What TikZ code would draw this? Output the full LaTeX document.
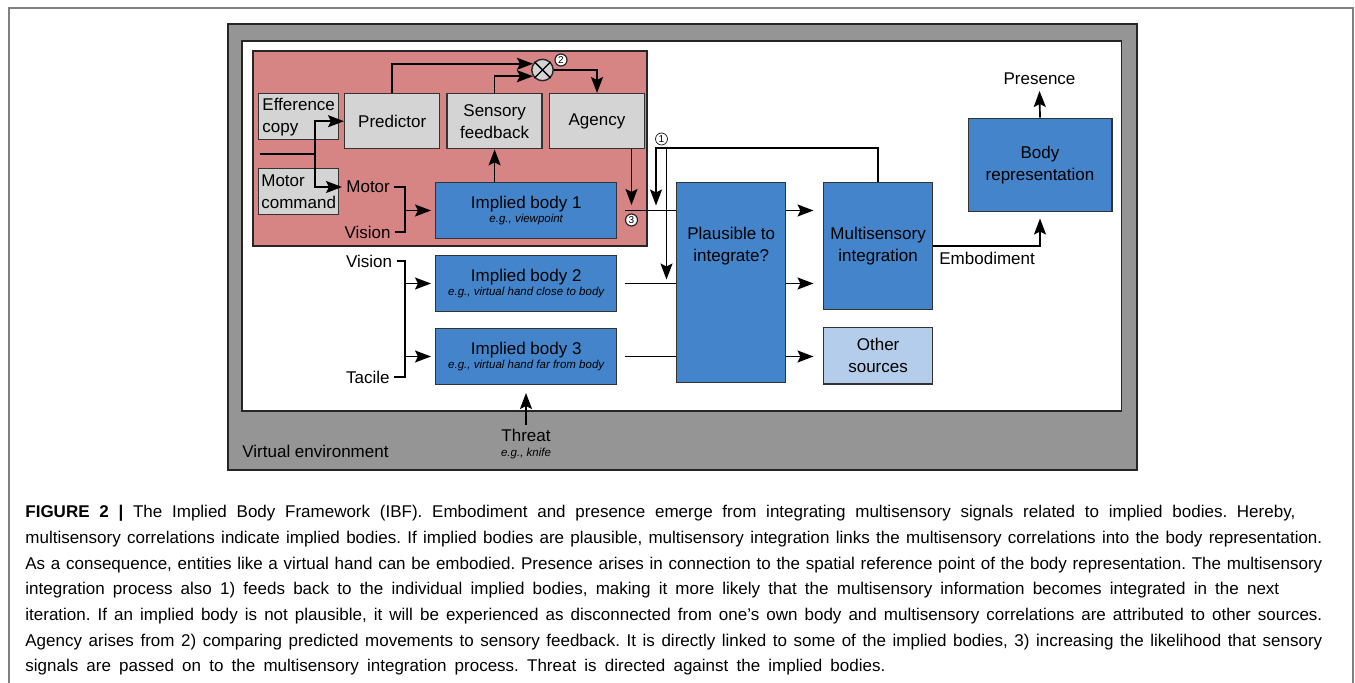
\documentclass[tikz,border=0pt]{standalone}
\usepackage{fontspec}
\setmainfont{Liberation Sans}
\usepackage{xcolor}
\usetikzlibrary{arrows.meta, positioning, calc}

\definecolor{envgray}{HTML}{959595}
\definecolor{agencyred}{HTML}{D78484}
\definecolor{boxgray}{HTML}{D4D4D4}
\definecolor{bodyblue}{HTML}{4384CA}
\definecolor{otherblue}{HTML}{B3CDEA}
\newcommand{\egfont}{\fontsize{5.75}{7}\selectfont\itshape}

\begin{document}
\begin{tikzpicture}[
  x=0.5pt, y=-0.5pt,
  gbox/.style={rectangle, draw=black!80, line width=0.7pt, fill=boxgray, minimum width=47.5pt, minimum height=27.5pt, align=center, inner sep=1pt, font=\fontsize{8.5}{11}\selectfont},
  bbox/.style={gbox, fill=bodyblue, minimum width=90.5pt, minimum height=27.8pt},
  lbl/.style={inner sep=2pt, align=center, font=\fontsize{8.5}{11}\selectfont},
  numcirc/.style={circle, draw=black!85, fill=white, line width=0.6pt, inner sep=0pt, minimum size=6pt, font=\fontsize{5}{5}\selectfont},
  wire/.style={line width=0.85pt},
  arr/.style={wire, -{Stealth[length=8pt, width=6pt, inset=1.5pt]}},
  node distance=8pt and 3pt
]
  \useasboundingbox (0,0) rectangle (1355,683);
  \draw[black!50, line width=0.6pt] (9,683) -- (9,8) -- (1353,8) -- (1353,683);

  % environment, body space, agency area
  \draw[black!85, line width=0.7pt, fill=envgray] (228,24) rectangle (1137,470);
  \draw[black!85, line width=0.7pt, fill=white] (242,41) rectangle (1121.5,411);
  \draw[black!85, line width=0.7pt, fill=agencyred] (253,51) rectangle (647,246);

  \node[gbox, minimum width=40pt, minimum height=23pt, align=left, anchor=north west] (effcopy) at (258,93) {Efference\\copy};
  \node[gbox, anchor=north west] (predictor) at (344,93) {Predictor};
  \node[gbox, right=3pt of predictor] (sensory) {Sensory\\feedback};
  \node[gbox, right=3pt of sensory] (agency) {Agency};
  \node[gbox, minimum width=40pt, minimum height=23pt, align=left, anchor=north west] (motorcmd) at (258,168) {Motor\\command};

  \node[circle, draw=black!85, line width=0.7pt, fill=boxgray, minimum size=10.7pt, inner sep=0pt] (comp) at (542.5,70) {};
  \draw[line width=0.7pt] (comp.north west) -- (comp.south east) (comp.north east) -- (comp.south west);

  \node[numcirc] (num2) at (561,60) {2};
  \node[numcirc] (num3) at (631.5,220) {3};
  \node[numcirc, line width=0.4pt] (num1) at (661.5,139) {1};

  % implied bodies
  \node[bbox, anchor=north west] (body1) at (435,182) {Implied body 1\\[-3.7pt]{\egfont e.g., viewpoint}};
  \node[bbox, below=8pt of body1] (body2) {Implied body 2\\[-3.7pt]{\egfont e.g., virtual hand close to body}};
  \node[bbox, below=8pt of body2] (body3) {Implied body 3\\[-3.7pt]{\egfont e.g., virtual hand far from body}};

  \node[bbox, minimum width=54.5pt, minimum height=100pt, anchor=north west] (plaus) at (676,182) {};
  \node[bbox, minimum width=54.5pt, minimum height=63.3pt, right=18.25pt of plaus.north east, anchor=north west] (multi) {Multisensory\\integration};
  \node[lbl] (plaustext) at (plaus.north |- multi.center) {Plausible to\\integrate?};
  \node[bbox, fill=otherblue, minimum width=54.5pt, minimum height=28.2pt, below=8.5pt of multi] (other) {Other\\sources};
  \node[bbox, minimum width=71.8pt, minimum height=46.7pt, anchor=north west] (bodyrep) at (967.5,117.7) {Body\\representation};

  % labels
  \node[lbl, anchor=west] (motor) at (342,187) {Motor};
  \node[lbl, anchor=east] (vision1) at (395,232) {Vision};
  \node[lbl, anchor=east] (vision2) at (396.5,261) {Vision};
  \node[lbl, anchor=east] (tactile) at (394,377) {Tacile};
  \node[lbl, anchor=south, inner sep=3pt] (presence) at (1039.5,91) {Presence};
  \node[lbl, anchor=west] (embodiment) at (935,258) {Embodiment};
  \node[lbl, anchor=north] (threat) at (526,425) {Threat\\[-3.7pt]{\egfont e.g., knife}};
  \node[lbl, anchor=west, inner sep=0pt] (venv) at (242,451) {Virtual environment};

  % agency loop
  \coordinate (mcin) at (260,154);
  \coordinate (split) at (315,154);
  \draw[wire] (mcin) -- (split);
  \draw[arr] (split) |- (predictor.west);
  \draw[arr] (split) |- (motor.west);
  \draw[arr] (predictor.north) |- (comp.147);
  \draw[arr] (sensory.north) |- (comp.213);
  \draw[arr] (comp.east) -| (agency.north);
  \draw[arr] (body1.north -| sensory.south) -- (sensory.south);
  \coordinate (ag3) at (631.5,205);
  \draw[arr] (agency.south -| ag3) -- (ag3);

  % sensory inputs
  \coordinate (join1) at ($(body1.west)+(-30,0)$);
  \coordinate (join2) at ($(body2.west)+(-30,0)$);
  \coordinate (join3) at ($(body3.west)+(-30,0)$);
  \draw[wire] (motor.east) -| (join1) |- (vision1.east);
  \draw[arr, shorten >=2pt] (join1) -- (body1.west);
  \draw[wire] (vision2.east) -| (join2) -- (join3) |- (tactile.east);
  \draw[arr, shorten >=2pt] (join2) -- (body2.west);
  \draw[arr, shorten >=2pt] (join3) -- (body3.west);

  % to integration
  \draw[wire, shorten <=3.8pt] (body1.east) -- (body1.east -| plaus.west);
  \draw[wire, shorten <=3.8pt] (body2.east) -- (body2.east -| plaus.west);
  \draw[wire, shorten <=3.8pt] (body3.east) -- (body3.east -| plaus.west);
  \draw[arr, shorten >=4.7pt] (plaus.east |- body1.east) -- (multi.west |- body1.east);
  \draw[arr, shorten >=4.7pt] (plaus.east |- body2.east) -- (multi.west |- body2.east);
  \draw[arr, shorten >=4.7pt] (plaus.east |- body3.east) -- (other.west |- body3.east);
  \draw[arr, shorten >=3pt] (multi.east) -| (bodyrep.south);
  \draw[arr] (bodyrep.north) -- (presence.south);
  \draw[arr, shorten >=4pt] (threat.north) -- (threat.north |- body3.south);

  % feedback
  \coordinate (fb1) at (656,148);
  \coordinate (fb2) at (666.5,148);
  \draw[arr, shorten >=2.5pt] (multi.north) |- (fb1) -- (fb1 |- body1.east);
  \draw[arr, shorten >=2pt] (fb2) -- (fb2 |- body2.east);

  % caption
  \node[anchor=north west, inner sep=0pt, align=left, font=\fontsize{8.5}{12.85}\selectfont\frenchspacing] (caption) at (25,505) {%
    \makebox[635pt][s]{\textbf{FIGURE 2 |} The Implied Body Framework (IBF). Embodiment and presence emerge from integrating multisensory signals related to implied bodies. Hereby,}\\
    \makebox[648.5pt][s]{multisensory correlations indicate implied bodies. If implied bodies are plausible, multisensory integration links the multisensory correlations into the body representation.}\\
    \makebox[648.5pt][s]{As a consequence, entities like a virtual hand can be embodied. Presence arises in connection to the spatial reference point of the body representation. The multisensory}\\
    \makebox[627pt][s]{integration process also 1) feeds back to the individual implied bodies, making it more likely that the multisensory information becomes integrated in the next}\\
    \makebox[648.5pt][s]{iteration. If an implied body is not plausible, it will be experienced as disconnected from one’s own body and multisensory correlations are attributed to other sources.}\\
    \makebox[648.5pt][s]{Agency arises from 2) comparing predicted movements to sensory feedback. It is directly linked to some of the implied bodies, 3) increasing the likelihood that sensory}\\
    \makebox[430pt][s]{signals are passed on to the multisensory integration process. Threat is directed against the implied bodies.}};
\end{tikzpicture}
\end{document}
